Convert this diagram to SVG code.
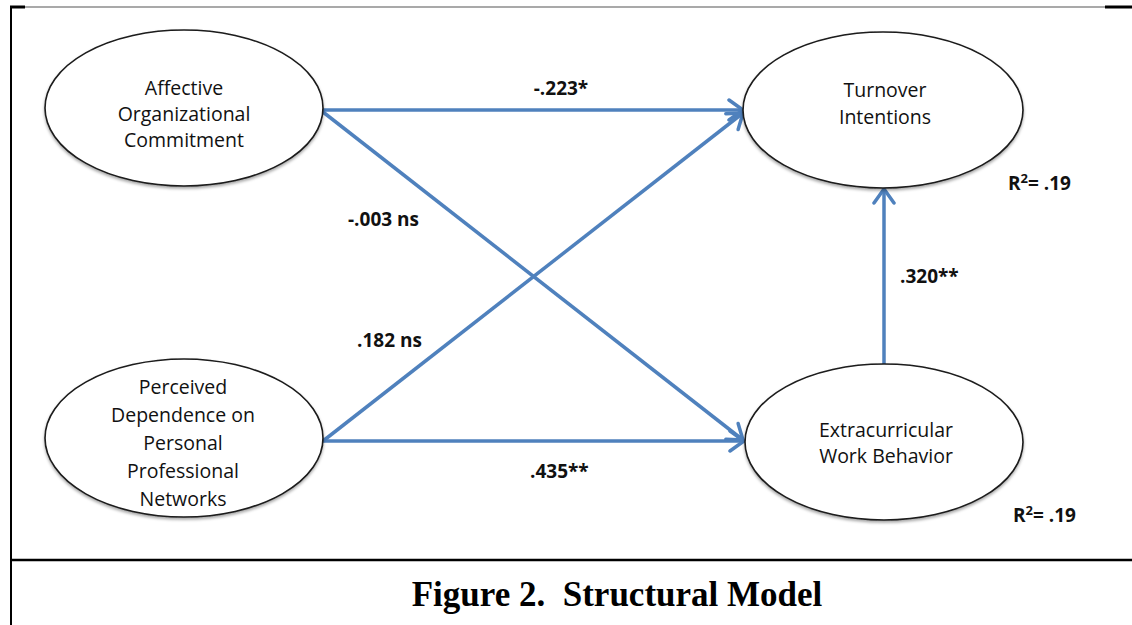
<svg xmlns="http://www.w3.org/2000/svg" width="1132" height="625" viewBox="0 0 1132 625">
  <style>
    .node ellipse { fill: #ffffff; stroke: #1a1a1a; stroke-width: 1.6; }
    .node text { font-family: "Open Sans", "Liberation Sans", sans-serif; font-size: 19.5px; fill: #111; text-anchor: middle; }
    .conn { stroke: #4f81bd; stroke-width: 3.5; fill: none; marker-end: url(#arrow); }
    .lbl { font-family: "Open Sans", "Liberation Sans", sans-serif; font-size: 19px; font-weight: bold; fill: #111; }
    .caption { font-family: "Liberation Serif", "DejaVu Serif", serif; font-size: 35px; font-weight: bold; fill: #000; text-anchor: middle; }
  </style>
  <defs>
    <marker id="arrow" markerUnits="userSpaceOnUse" markerWidth="24" markerHeight="24" viewBox="0 0 24 24" refX="20" refY="12" orient="auto">
      <path d="M6,2 L20,12 L6,22" fill="none" stroke="#4f81bd" stroke-width="3.5" stroke-linecap="round" stroke-linejoin="miter"/>
    </marker>
    <filter id="shadow" x="-10%" y="-10%" width="120%" height="130%">
      <feDropShadow dx="0" dy="2" stdDeviation="1.5" flood-color="#000" flood-opacity="0.35"/>
    </filter>
  </defs>

  <rect x="0" y="0" width="1132" height="625" fill="#ffffff"/>

  <!-- frame -->
  <g id="frame">
    <line x1="25" y1="7" x2="1105" y2="7" stroke="#555" stroke-width="1.2"/>
    <line x1="10" y1="7" x2="25" y2="7" stroke="#000" stroke-width="3"/>
    <line x1="1105" y1="7" x2="1132" y2="7" stroke="#000" stroke-width="3"/>
    <line x1="11" y1="6" x2="11" y2="625" stroke="#000" stroke-width="2"/>
    <line x1="11" y1="560" x2="1132" y2="560" stroke="#000" stroke-width="2.5"/>
  </g>

  <!-- connectors -->
  <g id="connectors">
    <line class="conn" x1="323" y1="110" x2="743" y2="110"/>
    <line class="conn" x1="323" y1="112" x2="743" y2="440"/>
    <line class="conn" x1="323" y1="441" x2="743" y2="113"/>
    <line class="conn" x1="323" y1="441" x2="744" y2="441"/>
    <line class="conn" x1="884" y1="365" x2="884" y2="189"/>
  </g>

  <g id="node-aoc" class="node">
    <ellipse cx="184" cy="108" rx="139" ry="78" filter="url(#shadow)"/>
    <text x="184" y="95">Affective</text>
    <text x="184" y="121">Organizational</text>
    <text x="184" y="147">Commitment</text>
  </g>

  <g id="node-pd" class="node">
    <ellipse cx="184" cy="438" rx="139" ry="79" filter="url(#shadow)"/>
    <text x="183" y="394">Perceived</text>
    <text x="183" y="422">Dependence on</text>
    <text x="183" y="450">Personal</text>
    <text x="183" y="478">Professional</text>
    <text x="183" y="506">Networks</text>
  </g>

  <g id="node-ti" class="node">
    <ellipse cx="883" cy="110" rx="140" ry="78" filter="url(#shadow)"/>
    <text x="885" y="97">Turnover</text>
    <text x="885" y="124">Intentions</text>
  </g>

  <g id="node-ewb" class="node">
    <ellipse cx="884" cy="442" rx="139" ry="78" filter="url(#shadow)"/>
    <text x="886" y="437">Extracurricular</text>
    <text x="886" y="463">Work Behavior</text>
  </g>

  <g id="labels">
    <text class="lbl" x="561" y="95" text-anchor="middle">-.223*</text>
    <text class="lbl" x="348" y="226">-.003 ns</text>
    <text class="lbl" x="357" y="347">.182 ns</text>
    <text class="lbl" x="530" y="478">.435**</text>
    <text class="lbl" x="900" y="283">.320**</text>
    <text class="lbl" x="1008" y="190">R<tspan font-size="13" dy="-7">2</tspan><tspan dy="7">= .19</tspan></text>
    <text class="lbl" x="1013" y="522">R<tspan font-size="13" dy="-7">2</tspan><tspan dy="7">= .19</tspan></text>
  </g>

  <text class="caption" x="617" y="606">Figure 2.&#160; Structural Model</text>
</svg>
